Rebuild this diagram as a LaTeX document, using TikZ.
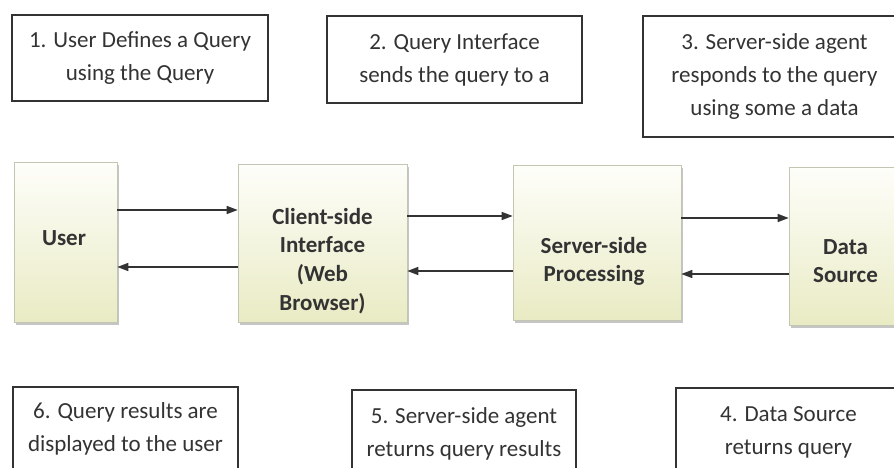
\documentclass[tikz,border=0pt]{standalone}
\usepackage{fontspec}
\setmainfont{Carlito}
\usetikzlibrary{arrows.meta,shadows}
\definecolor{txtc}{HTML}{333333}
\definecolor{boxtop}{HTML}{FEFEFA}
\definecolor{boxbot}{HTML}{E9EBC4}
\definecolor{boxline}{HTML}{C4C6B4}
\begin{document}
\begin{tikzpicture}[x=1pt,y=-1pt,
  tbox/.style={draw=black!80, line width=1.3pt, align=center, text=txtc,
    font=\fontsize{23}{33}\selectfont, inner sep=0pt},
  mbox/.style={draw=boxline, line width=0.6pt, top color=boxtop, bottom color=boxbot,
    drop shadow={shadow xshift=2pt, shadow yshift=-3pt, fill=black!45, opacity=0.5},
    inner sep=0pt},
  mtxt/.style={align=center, text=txtc, font=\bfseries\fontsize{23}{28.7}\selectfont},
  arr/.style={draw=black!80, line width=1.4pt, -{Triangle[length=11pt,width=8pt]}}
]
\useasboundingbox (0,0) rectangle (894,468);
\clip (0,0) rectangle (894,468);

% step boxes
\node[tbox, minimum width=256pt, minimum height=86pt] (b1) at (140,58) {1. User Defines a Query\\using the Query};
\node[tbox, minimum width=255pt, minimum height=87pt] (b2) at (454.5,59.5) {2. Query Interface\\sends the query to a};
\node[tbox, minimum width=263pt, minimum height=121pt] (b3) at (774.5,76.5) {3. Server-side agent\\responds to the query\\using some a data};
\node[tbox, minimum width=225pt, minimum height=84pt] (b6) at (125.5,429) {6. Query results are\\displayed to the user};
\node[tbox, minimum width=224pt, minimum height=88pt] (b5) at (464,434) {5. Server-side agent\\returns query results};
\node[tbox, minimum width=225pt, minimum height=89pt] (b4) at (788.5,432.5) {4. Data Source\\returns query};

% main components
\node[mbox, minimum width=103pt, minimum height=160pt] (user) at (65.5,242) {};
\node[mbox, minimum width=169pt, minimum height=158pt] (client) at (322.5,243) {};
\node[mbox, minimum width=168pt, minimum height=155pt] (server) at (597,242.5) {};
\node[mbox, minimum width=113pt, minimum height=158pt] (data) at (845.5,246) {};

\node[mtxt] (tuser) at (64,238) {User};
\node[mtxt] (tclient) at (322.5,261) {Client-side\\Interface\\(Web\\Browser)};
\node[mtxt] (tserver) at (594,261.5) {Server-side\\Processing};
\node[mtxt] (tdata) at (845.5,261) {Data\\Source};

% connectors
\draw[arr] (user.east |- 0,210) -- (client.west |- 0,210);
\draw[arr] (client.west |- 0,267) -- (user.east |- 0,267);
\draw[arr] (client.east |- 0,216) -- (server.west |- 0,216);
\draw[arr] (server.west |- 0,271) -- (client.east |- 0,271);
\draw[arr] (server.east |- 0,218) -- (data.west |- 0,218);
\draw[arr] (data.west |- 0,274) -- (server.east |- 0,274);
\end{tikzpicture}
\end{document}
